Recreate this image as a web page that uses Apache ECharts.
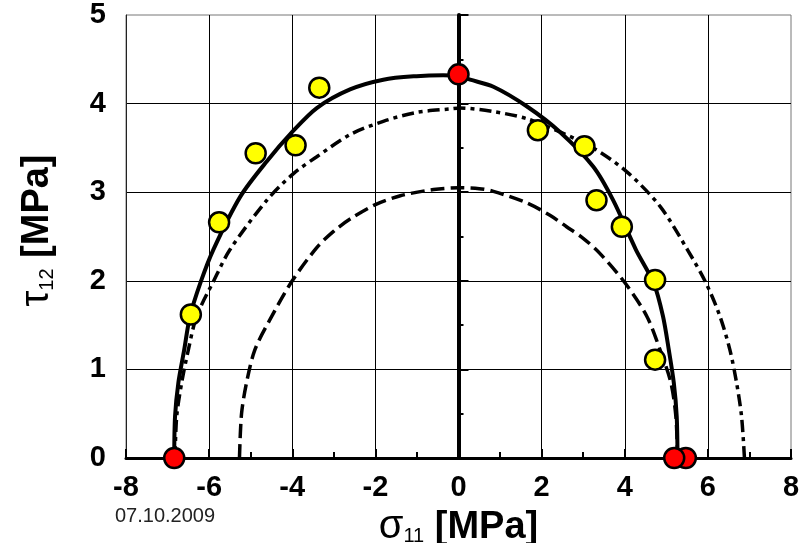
<!DOCTYPE html>
<html><head><meta charset="utf-8">
<script src="https://cdn.jsdelivr.net/npm/echarts@6/dist/echarts.min.js"></script>
<style>html,body{margin:0;padding:0;background:#fff}#chart{width:799px;height:543px}</style>
</head><body><div id="chart"></div>
<script>
// axis ranges / tick labels
const xTickLabels = ['-8','-6','-4','-2','0','2','4','6','8'];
const yTickLabels = ['0','1','2','3','4','5'];
const dateLabel = '07.10.2009';

// solid curve
const solidX = [-6.84,-6.82,-6.74,-6.60,-6.46,-6.20,-5.90,-5.25,-4.61,-4.00,-3.41,-2.61,-1.81,-1.01,-0.37,0.00,0.28,0.84,1.64,2.44,3.24,3.72,4.27,4.70,4.92,5.06,5.18,5.25,5.27];
const solidY = [0.00,0.47,0.85,1.22,1.60,1.99,2.35,2.95,3.35,3.68,3.95,4.16,4.27,4.31,4.32,4.31,4.27,4.19,3.97,3.68,3.29,2.91,2.35,1.97,1.60,1.22,0.85,0.47,0.00];

// dash-dot curve
const dashDotX = [-6.82,-6.78,-6.66,-6.50,-6.30,-5.90,-5.50,-4.61,-3.97,-3.41,-2.61,-1.81,-1.01,-0.20,0.04,0.84,1.64,2.44,3.24,4.05,4.85,5.51,5.96,6.29,6.53,6.69,6.81,6.88];
const dashDotY = [0.00,0.47,0.85,1.22,1.60,1.99,2.35,2.91,3.21,3.40,3.65,3.80,3.90,3.94,3.95,3.91,3.83,3.68,3.50,3.23,2.84,2.35,1.97,1.60,1.22,0.85,0.47,0.00];

// dashed curve
const dashedX = [-5.27,-5.22,-5.10,-4.90,-4.55,-4.00,-3.40,-3.00,-2.60,-2.00,-1.40,-0.60,0.00,0.50,0.84,1.64,2.20,2.60,3.00,3.40,4.00,4.53,4.85,5.11,5.23,5.27];
const dashedY = [0.00,0.50,0.85,1.22,1.55,2.00,2.38,2.56,2.70,2.86,2.96,3.03,3.05,3.04,3.01,2.88,2.74,2.61,2.48,2.31,1.98,1.60,1.22,0.85,0.47,0.00];

// measured points
const yellowX = [-6.44,-5.76,-4.88,-3.92,-3.35,1.91,3.03,3.32,3.93,4.73,4.73];
const yellowY = [1.62,2.66,3.44,3.53,4.18,3.70,3.52,2.91,2.61,2.01,1.11];
const redX = [5.47,5.19,-6.84,0.00];
const redY = [0.00,0.00,0.00,4.33];

const pairs = (xs, ys) => xs.map((x, i) => [x, ys[i]]);
const FONT = 'Liberation Sans, Arial, sans-serif';

const titleRich = (first) => ({
  [first]: { fontFamily: FONT, fontSize: 40, lineHeight: 40, color: '#000', verticalAlign: 'bottom' },
  sub: { fontFamily: FONT, fontSize: 20, lineHeight: 14, color: '#000', verticalAlign: 'bottom' },
  b: { fontFamily: FONT, fontSize: 38, lineHeight: 40, fontWeight: 'bold', color: '#000', verticalAlign: 'bottom' }
});

const chart = echarts.init(document.getElementById('chart'));
chart.setOption({
  animation: false,
  backgroundColor: '#fff',
  grid: { left: 126, right: 8, top: 15, bottom: 85, show: true, borderColor: '#777', borderWidth: 1,
          containLabel: false, outerBoundsMode: 'none' },
  xAxis: {
    type: 'value', min: -8, max: 8, interval: 2,
    name: '{s|σ}{sub|11}{b| [MPa]}', nameLocation: 'middle', nameGap: 38,
    nameTextStyle: { rich: titleRich('s') },
    axisLine: { show: true, onZero: false, lineStyle: { color: '#000', width: 3 } },
    axisTick: { show: true, inside: true, length: 9, lineStyle: { color: '#000', width: 2 } },
    minorTick: { show: true, splitNumber: 2, length: 6, lineStyle: { color: '#000', width: 2 } },
    axisLabel: {
      margin: 15, color: '#000', fontFamily: FONT, fontSize: 29, fontWeight: 'bold',
      formatter: v => xTickLabels[xTickLabels.indexOf(String(v))] || String(v)
    },
    splitLine: { show: true, showMinLine: false, showMaxLine: false, lineStyle: { color: '#000', width: 1 } }
  },
  yAxis: [{
    type: 'value', min: 0, max: 5, interval: 1, position: 'left',
    name: '{t|τ}{sub|12}{b| [MPa]}', nameLocation: 'middle', nameGap: 69, nameRotate: 90,
    nameTextStyle: { padding: [0, 0, 0, 12], rich: titleRich('t') },
    axisLine: { show: true, onZero: false, lineStyle: { color: '#222', width: 1 } },
    axisTick: { show: false },
    axisLabel: {
      margin: 20, color: '#000', fontFamily: FONT, fontSize: 29, fontWeight: 'bold',
      formatter: v => yTickLabels[yTickLabels.indexOf(String(v))] || String(v)
    },
    splitLine: { show: true, showMinLine: false, showMaxLine: false, lineStyle: { color: '#000', width: 1 } }
  }, {
    type: 'value', min: 0, max: 5, interval: 1, position: 'left', offset: -332.5,
    axisLine: { show: true, onZero: false, lineStyle: { color: '#000', width: 4 } },
    axisTick: { show: true, inside: true, length: 10, lineStyle: { color: '#000', width: 2 } },
    minorTick: { show: true, splitNumber: 2, length: 5, lineStyle: { color: '#000', width: 2 } },
    axisLabel: { show: false },
    splitLine: { show: false }
  }],
  graphic: [{
    type: 'text', left: 115, top: 506,
    style: { text: dateLabel, fontFamily: FONT, fontSize: 20, fill: '#222' }
  }],
  series: [
    { type: 'line', data: pairs(dashedX, dashedY), smooth: 0.3, showSymbol: false, z: 3,
      lineStyle: { color: '#000', width: 3.5, type: [14, 6] } },
    { type: 'line', data: pairs(dashDotX, dashDotY), smooth: 0.3, showSymbol: false, z: 3,
      lineStyle: { color: '#000', width: 3.5, type: [12, 5, 4, 5] } },
    { type: 'line', data: pairs(solidX, solidY), smooth: 0.3, showSymbol: false, z: 4,
      lineStyle: { color: '#000', width: 4 } },
    { type: 'scatter', data: pairs(yellowX, yellowY), symbolSize: 20, z: 5,
      itemStyle: { color: '#ffff00', borderColor: '#000', borderWidth: 2.5, opacity: 1 } },
    { type: 'scatter', data: pairs(redX, redY), symbolSize: 20, z: 6,
      itemStyle: { color: '#ff0000', borderColor: '#000', borderWidth: 2.5, opacity: 1 } }
  ]
});
</script></body></html>
